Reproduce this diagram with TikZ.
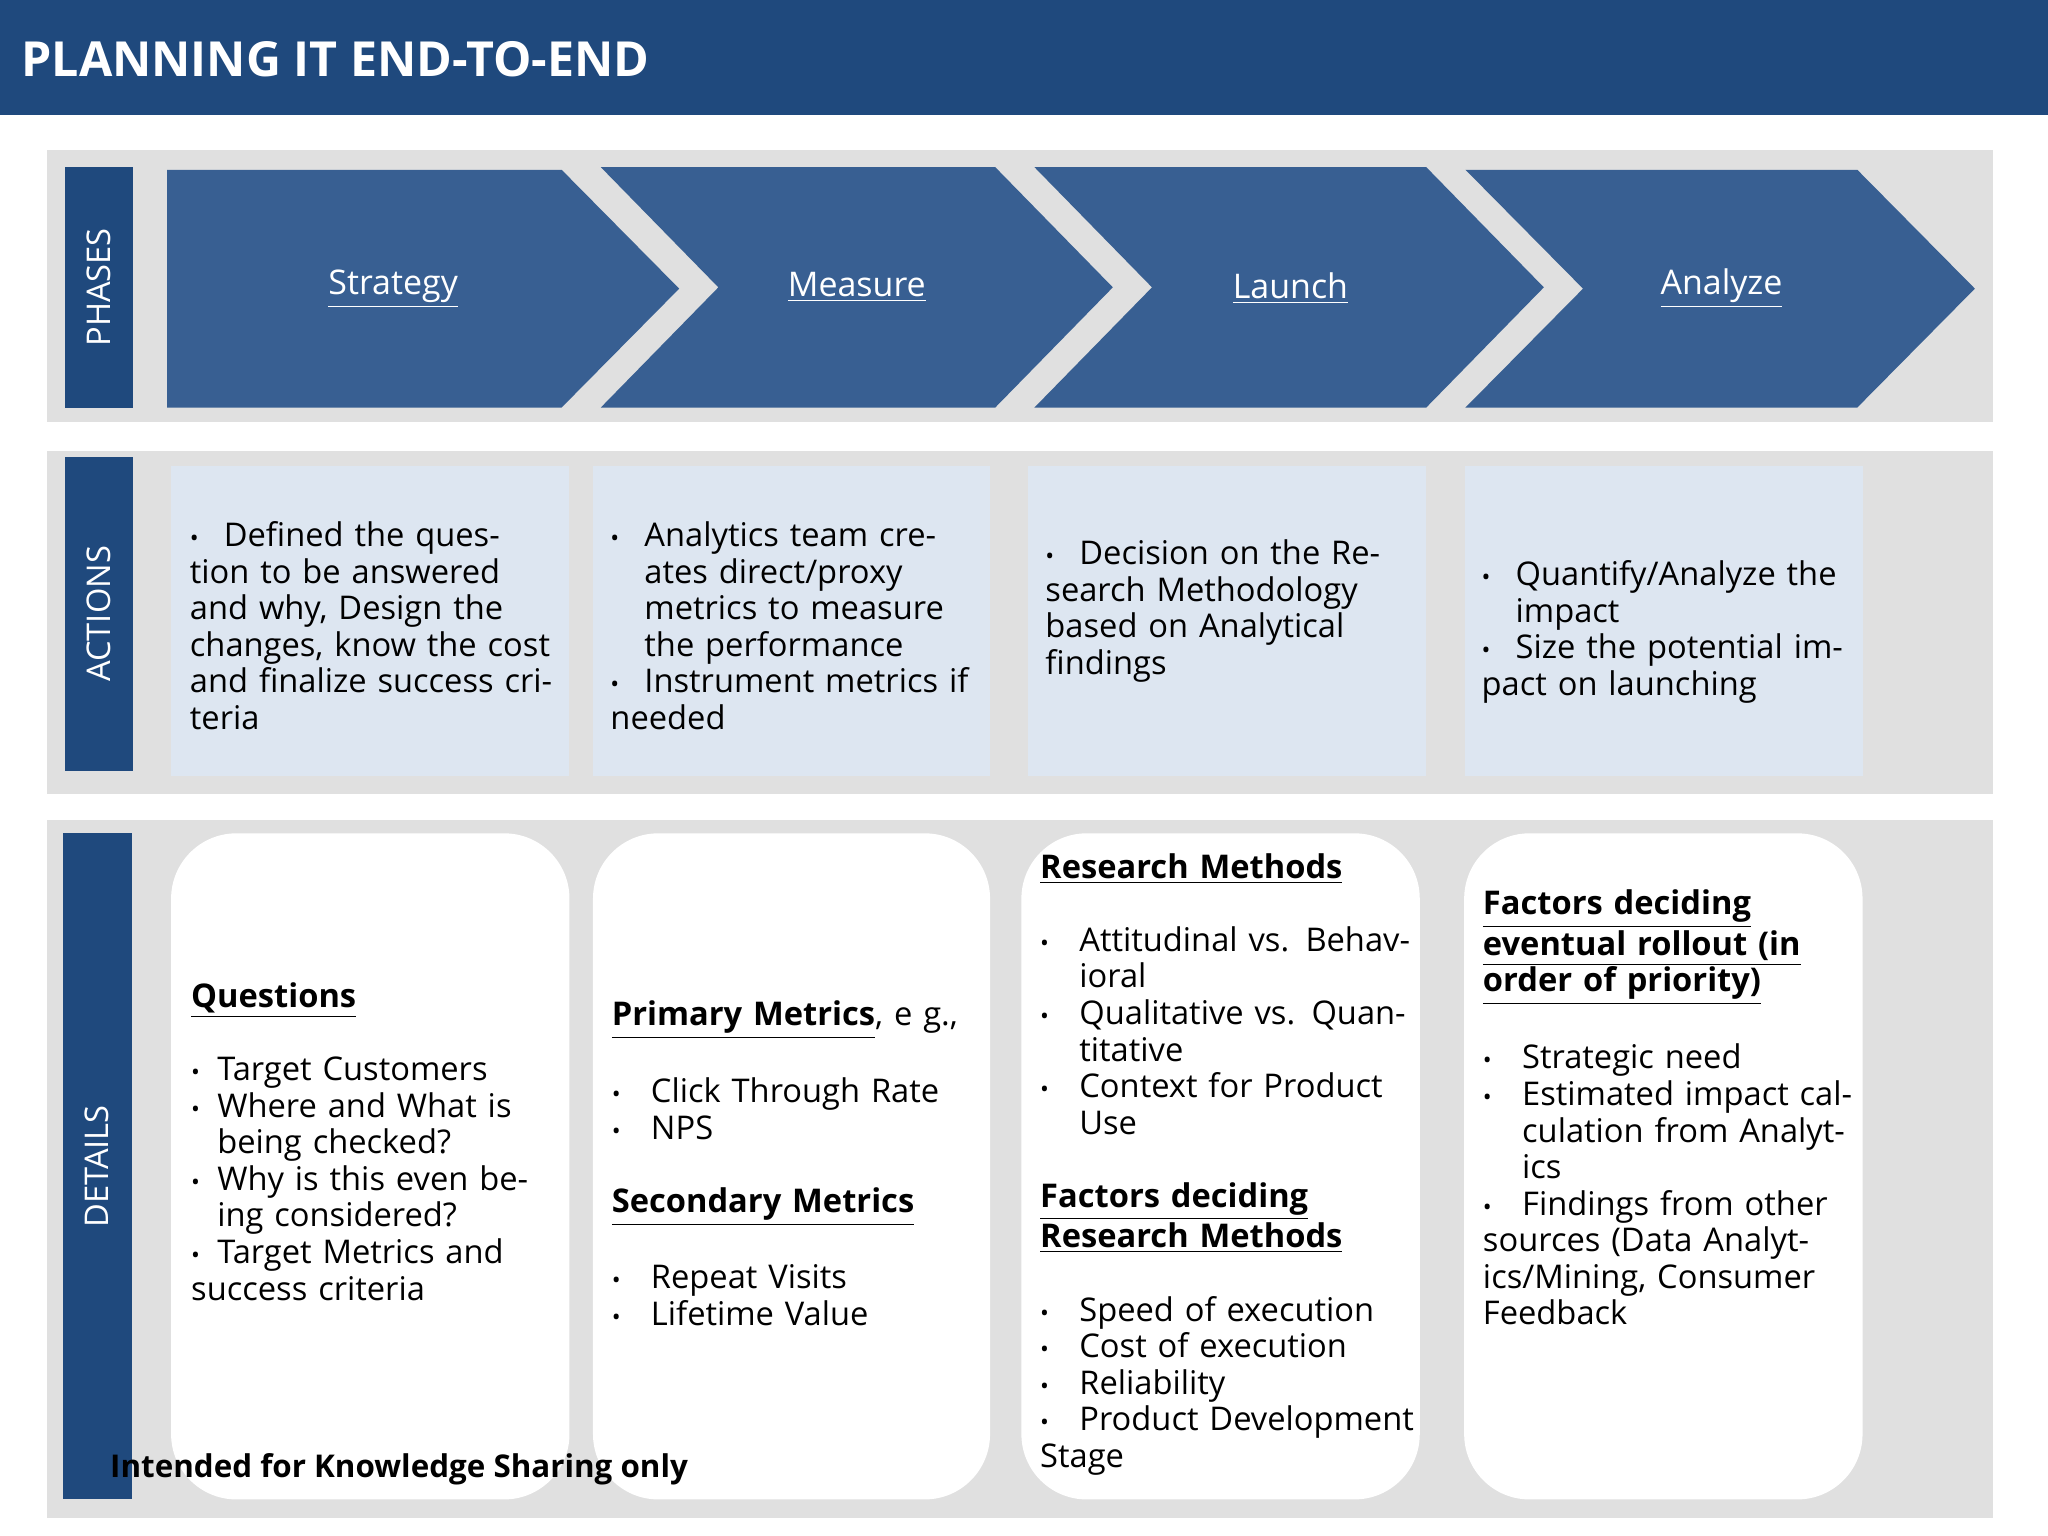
\documentclass[tikz,border=0pt]{standalone}
\usepackage{fontspec}
\setmainfont{Open Sans}
\definecolor{hdr}{RGB}{31,73,125}
\definecolor{chev}{RGB}{56,95,146}
\definecolor{side}{RGB}{31,73,125}
\definecolor{panel}{RGB}{224,224,224}
\definecolor{act}{RGB}{221,230,241}
\newcommand{\bitem}[2][13pt]{\par\hangindent=#1\hangafter=1\noindent\makebox[#1][l]{\small\textbullet}#2}
\newcommand{\ul}[1]{\underline{#1}}
\tikzset{
  panelbox/.style={fill=panel,draw=none},
  sidebox/.style={fill=side,draw=none},
  sidelabel/.style={text=white,rotate=90,font=\fontsize{12.5}{14}\selectfont},
  chevron/.style={fill=chev,draw=none},
  chevlabel/.style={text=white,font=\fontsize{13}{15}\selectfont},
  actbox/.style={fill=act,draw=none},
  detbox/.style={fill=white,draw=none,rounded corners=25pt},
  txt/.style={anchor=north west,inner sep=0pt,align=left,font=\fontsize{12.5}{14}\selectfont}
}
\begin{document}
\begin{tikzpicture}[x=0.5pt,y=-0.5pt]
\useasboundingbox (0,0) rectangle (1568,1176);
\fill[white] (0,0) rectangle (1568,1176);
\fill[hdr] (0,0) rectangle (1568,88);
\node[anchor=west,text=white,inner sep=0pt,font=\fontsize{18.5}{20}\selectfont\bfseries] (title) at (16,45) {PLANNING IT END-TO-END};
% panels
\fill[panelbox] (36,115) rectangle (1526,323);
\fill[panelbox] (36,345) rectangle (1526,608);
\fill[panelbox] (36,628) rectangle (1526,1162);
\fill[sidebox] (50,128) rectangle (102,312);
\fill[sidebox] (50,350) rectangle (102,590);
\fill[sidebox] (48,638) rectangle (101,1148);
\node[sidelabel] (lp) at (76,220) {PHASES};
\node[sidelabel] (la) at (76,470) {ACTIONS};
\node[sidelabel] (ld) at (74,893) {DETAILS};
% chevrons
\fill[chevron] (128,130) -- (430,130) -- (520,221) -- (430,312) -- (128,312) -- cycle;
\fill[chevron] (460,128) -- (762,128) -- (852,220) -- (762,312) -- (460,312) -- (550,220) -- cycle;
\fill[chevron] (792,128) -- (1092,128) -- (1182,220) -- (1092,312) -- (792,312) -- (882,220) -- cycle;
\fill[chevron] (1122,130) -- (1422,130) -- (1512,221) -- (1422,312) -- (1122,312) -- (1212,221) -- cycle;
\node[chevlabel] (c1) at (301,221) {\ul{Strategy}};
\node[chevlabel] (c2) at (656,220) {\ul{Measure}};
\node[chevlabel] (c3) at (988,221) {\ul{Launch}};
\node[chevlabel] (c4) at (1318,221) {\ul{Analyze}};
% action boxes
\fill[actbox] (131,357) rectangle (436,594);
\fill[actbox] (454,357) rectangle (758,594);
\fill[actbox] (787,357) rectangle (1092,594);
\fill[actbox] (1122,357) rectangle (1426,594);
\node[txt,text width=142pt] (a1) at (145,390) {\bitem{Defined the question to be answered and why, Design the changes, know the cost and finalize success criteria}};
\node[txt,text width=142pt] (a2) at (467,390) {\bitem{Analytics team creates direct/proxy metrics to measure the performance}\bitem{Instrument metrics if needed}};
\node[txt,text width=142pt] (a3) at (800,404) {\bitem{Decision on the Research Methodology based on Analytical findings}};
\node[txt,text width=142pt] (a4) at (1134,420) {\bitem{Quantify/Analyze the impact}\bitem{Size the potential impact on launching}};
% detail boxes
\fill[detbox] (131,638) rectangle (436,1148);
\fill[detbox] (454,638) rectangle (758,1148);
\fill[detbox] (782,638) rectangle (1087,1148);
\fill[detbox] (1121,638) rectangle (1426,1148);
\node[txt,text width=142pt] (d1) at (146,752) {\ul{\textbf{Questions}}\par\vspace{14pt}
\bitem[10pt]{Target Customers}\bitem[10pt]{Where and What is being checked?}\bitem[10pt]{Why is this even being considered?}\bitem[10pt]{Target Metrics and success criteria}};
\node[txt,text width=145pt] (d2) at (468,766) {\ul{\textbf{Primary Metrics}}, e g.,\par\vspace{14pt}
\bitem[15pt]{Click Through Rate}\bitem[15pt]{NPS}\par\vspace{14pt}
\ul{\textbf{Secondary Metrics}}\par\vspace{14pt}
\bitem[15pt]{Repeat Visits}\bitem[15pt]{Lifetime Value}};
\node[txt,text width=145pt] (d3) at (796,653) {\ul{\textbf{Research Methods}}\par\vspace{14pt}
\bitem[15pt]{Attitudinal vs. Behavioral}\bitem[15pt]{Qualitative vs. Quantitative}\bitem[15pt]{Context for Product Use}\par\vspace{14pt}
\ul{\textbf{Factors deciding}}\par\ul{\textbf{Research Methods}}\par\vspace{14pt}
\bitem[15pt]{Speed of execution}\bitem[15pt]{Cost of execution}\bitem[15pt]{Reliability}\bitem[15pt]{Product Development Stage}};
\node[txt,text width=145pt] (d4) at (1135,681) {\ul{\textbf{Factors deciding}}\par\ul{\textbf{eventual rollout (in}}\par\ul{\textbf{order of priority)}}\par\vspace{14pt}
\bitem[15pt]{Strategic need}\bitem[15pt]{Estimated impact calculation from Analytics}\bitem[15pt]{Findings from other sources (Data Analytics/Mining, Consumer Feedback}};
\node[anchor=west,inner sep=0pt,font=\fontsize{12}{14}\selectfont\bfseries] (foot) at (84,1125) {Intended for Knowledge Sharing only};
\end{tikzpicture}
\end{document}
